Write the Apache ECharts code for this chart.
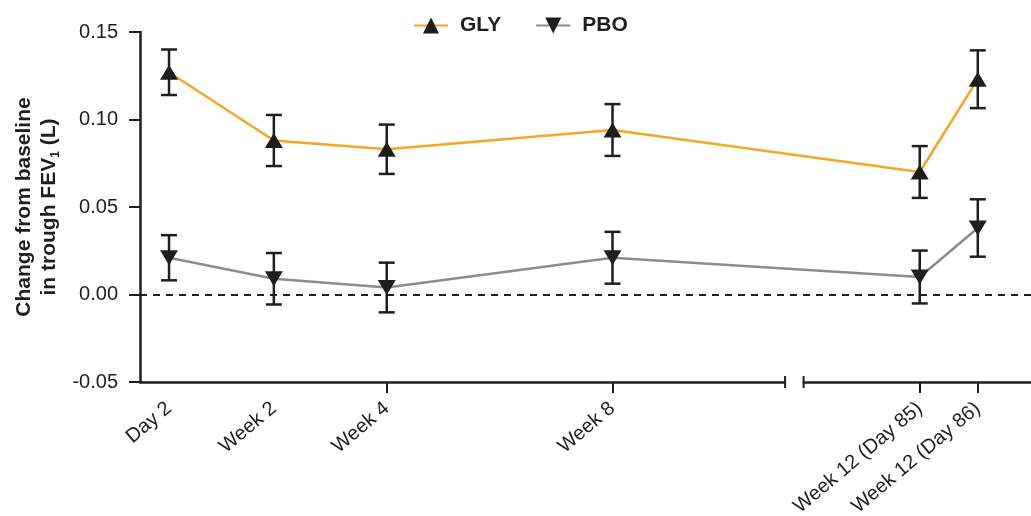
<!DOCTYPE html>
<html>
<head>
<meta charset="utf-8">
<script src="https://cdn.jsdelivr.net/npm/echarts@6/dist/echarts.min.js"></script>
<style>
html, body { margin: 0; padding: 0; background: #fff; }
#main { width: 1031px; height: 516px; }
</style>
</head>
<body>
<div id="main"></div>
<script>
// visits (study day) and results
var visitLabels = ['Day 2', 'Week 2', 'Week 4', 'Week 8', 'Week 12 (Day 85)', 'Week 12 (Day 86)'];
var visitDays = [2, 15, 29, 57, 85, 86];
var tickedDays = [29, 57, 85, 86];

var glyMean = [0.127, 0.088, 0.083, 0.094, 0.070, 0.123];
var glyErr = [0.013, 0.0146, 0.0141, 0.0148, 0.0148, 0.0165];
var pboMean = [0.021, 0.009, 0.004, 0.021, 0.010, 0.038];
var pboErr = [0.0129, 0.0147, 0.0142, 0.0148, 0.0151, 0.0164];

// broken x scale: days up to brk.from are linear, after brk.to the Week 12 visits are spread out
var brk = { from: 78.4, to: 83, gap: 2.3, stretch: 7.2 };
function toAxis(d) {
    return d <= brk.from ? d : brk.from + brk.gap + (d - brk.to) * brk.stretch;
}

var font = '"Liberation Sans", Arial, sans-serif';
var ink = '#1e1e1e';

function errData(mean, err) {
    return visitDays.map(function (d, i) {
        return [toAxis(d), mean[i] - err[i], mean[i] + err[i]];
    });
}
function lineData(mean) {
    return visitDays.map(function (d, i) { return [toAxis(d), mean[i]]; });
}

function renderErr(params, api) {
    var x = api.value(0);
    var lo = api.coord([x, api.value(1)]);
    var hi = api.coord([x, api.value(2)]);
    var w = 8;
    var st = { stroke: ink, lineWidth: 2.5 };
    return {
        type: 'group',
        children: [
            { type: 'line', shape: { x1: lo[0], y1: lo[1], x2: hi[0], y2: hi[1] }, style: st },
            { type: 'line', shape: { x1: lo[0] - w, y1: lo[1], x2: lo[0] + w, y2: lo[1] }, style: st },
            { type: 'line', shape: { x1: hi[0] - w, y1: hi[1], x2: hi[0] + w, y2: hi[1] }, style: st }
        ]
    };
}

function renderBreak(params, api) {
    var a = api.coord([api.value(0), -0.05]);
    var b = api.coord([api.value(1), -0.05]);
    var st = { stroke: ink, lineWidth: 2 };
    return {
        type: 'group',
        children: [
            { type: 'rect', shape: { x: a[0] + 1, y: a[1] - 4, width: b[0] - a[0] - 2, height: 8 }, style: { fill: '#fff' } },
            { type: 'line', shape: { x1: a[0], y1: a[1] - 6, x2: a[0], y2: a[1] + 6 }, style: st },
            { type: 'line', shape: { x1: b[0], y1: b[1] - 6, x2: b[0], y2: b[1] + 6 }, style: st }
        ]
    };
}

var labelAt = {};
visitDays.forEach(function (d, i) { labelAt[toAxis(d).toFixed(4)] = visitLabels[i]; });

var chart = echarts.init(document.getElementById('main'));
var option = {
    animation: false,
    backgroundColor: '#fff',
    textStyle: { fontFamily: font },
    legend: {
        data: ['GLY', 'PBO'],
        top: 10,
        left: 408,
        itemWidth: 34,
        itemHeight: 20,
        itemGap: 34,
        textStyle: { fontSize: 21, fontWeight: 'bold', color: ink, fontFamily: font, padding: [0, 0, 0, 7] }
    },
    grid: {
        left: 140, right: 0, top: 32, bottom: 134,
        containLabel: false,
        outerBoundsMode: 'none'
    },
    xAxis: {
        type: 'value',
        min: -1.6,
        max: 108.9,
        splitLine: { show: false },
        axisLine: { show: true, onZero: false, lineStyle: { color: ink, width: 2.5 } },
        axisTick: {
            show: true,
            length: 11,
            lineStyle: { color: ink, width: 2 },
            customValues: tickedDays.map(toAxis)
        },
        axisLabel: {
            customValues: visitDays.map(toAxis),
            rotate: 40,
            margin: 24,
            fontSize: 20,
            color: ink,
            fontFamily: font,
            formatter: function (v) { return labelAt[v.toFixed(4)] || ''; }
        }
    },
    yAxis: {
        type: 'value',
        min: -0.05,
        max: 0.15,
        interval: 0.05,
        splitLine: { show: false },
        axisLine: { show: true, onZero: false, lineStyle: { color: ink, width: 2.5 } },
        axisTick: { show: true, length: 11, lineStyle: { color: ink, width: 2 } },
        axisLabel: {
            margin: 22,
            fontSize: 20,
            color: ink,
            fontFamily: font,
            formatter: function (v) { return v.toFixed(2); }
        },
        name: '{t|Change from baseline}\n{t|in trough FEV}{s|1}{t| (L)}',
        nameLocation: 'middle',
        nameRotate: 90,
        nameGap: 77,
        nameTextStyle: {
            rich: {
                t: { fontSize: 21, fontWeight: 'bold', color: ink, fontFamily: font, lineHeight: 25 },
                s: { fontSize: 12, fontWeight: 'bold', color: ink, fontFamily: font, lineHeight: 25, verticalAlign: 'bottom' }
            }
        }
    },
    series: [
        {
            name: 'GLY',
            type: 'line',
            data: lineData(glyMean),
            symbol: 'triangle',
            symbolSize: [18, 15],
            itemStyle: { color: ink },
            lineStyle: { color: '#F5A623', width: 2.5 },
            z: 4,
            markLine: {
                silent: true,
                symbol: 'none',
                label: { show: false },
                lineStyle: { color: ink, type: [7, 6], width: 2 },
                data: [{ yAxis: 0 }]
            }
        },
        {
            name: 'PBO',
            type: 'line',
            data: lineData(pboMean),
            symbol: 'path://M0,0 L10,0 L5,9 Z',
            symbolSize: [18, 15],
            itemStyle: { color: ink },
            lineStyle: { color: '#8c8c8c', width: 2.5 },
            z: 4
        },
        {
            type: 'custom',
            renderItem: renderErr,
            data: errData(glyMean, glyErr),
            z: 3,
            silent: true
        },
        {
            type: 'custom',
            renderItem: renderErr,
            data: errData(pboMean, pboErr),
            z: 3,
            silent: true
        },
        {
            type: 'custom',
            renderItem: renderBreak,
            data: [[brk.from, brk.from + brk.gap]],
            clip: false,
            z: 5,
            silent: true
        }
    ]
};
chart.setOption(option);
</script>
</body>
</html>
